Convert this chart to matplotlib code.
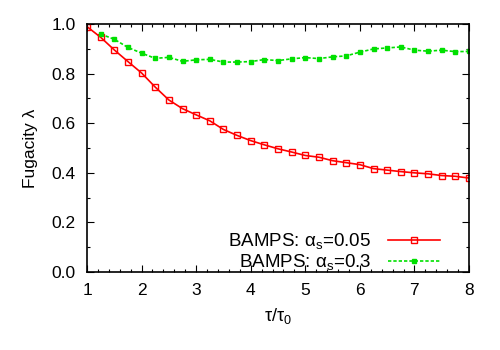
import numpy as np
import matplotlib
matplotlib.use("Agg")
import matplotlib.pyplot as plt
from matplotlib.ticker import MultipleLocator, FormatStrFormatter

plt.rcParams['font.family'] = ['Liberation Sans', 'DejaVu Sans']
plt.rcParams['mathtext.fontset'] = 'custom'
plt.rcParams['mathtext.rm'] = 'Liberation Sans'

# data
tau_red = [1.0, 1.25, 1.5, 1.75, 2.0, 2.25, 2.5, 2.75, 3.0, 3.25, 3.5, 3.75, 4.0, 4.25,
           4.5, 4.75, 5.0, 5.25, 5.5, 5.75, 6.0, 6.25, 6.5, 6.75, 7.0, 7.25, 7.5, 7.75, 8.0]
lam_red = [0.99, 0.947, 0.896, 0.849, 0.803, 0.746, 0.694, 0.659, 0.634, 0.610, 0.575, 0.551,
           0.530, 0.513, 0.497, 0.484, 0.470, 0.463, 0.449, 0.441, 0.433, 0.417, 0.411, 0.405,
           0.400, 0.396, 0.389, 0.386, 0.379]

tau_green = [1.25, 1.5, 1.75, 2.0, 2.25, 2.5, 2.75, 3.0, 3.25, 3.5, 3.75, 4.0, 4.25, 4.5,
             4.75, 5.0, 5.25, 5.5, 5.75, 6.0, 6.25, 6.5, 6.75, 7.0, 7.25, 7.5, 7.75, 8.0]
lam_green = [0.960, 0.939, 0.906, 0.883, 0.862, 0.866, 0.850, 0.856, 0.858, 0.847, 0.847, 0.849,
             0.857, 0.853, 0.860, 0.865, 0.861, 0.868, 0.872, 0.887, 0.900, 0.904, 0.908, 0.895,
             0.891, 0.895, 0.889, 0.890]

labels = ['BAMPS: α$_\\mathrm{s}$=0.05', 'BAMPS: α$_\\mathrm{s}$=0.3']

fig = plt.figure(figsize=(5, 3.5), dpi=100)
ax = fig.add_axes([0.174, 0.223, 0.764, 0.708])

ax.plot(tau_red, lam_red, color='#ff0000', lw=1.2, marker='s', ms=4.5,
        mfc='none', mec='#ff0000', mew=1.0, label=labels[0])
ax.plot(tau_green, lam_green, color='#00e000', lw=1.2, ls=(0, (2, 1.2)), marker='s', ms=3.5,
        mfc='#00e000', mec='#00e000', label=labels[1])

ax.set_xlim(1, 8)
ax.set_ylim(0, 1.0)
ax.xaxis.set_major_locator(MultipleLocator(1))
ax.xaxis.set_minor_locator(MultipleLocator(0.2))
ax.yaxis.set_major_locator(MultipleLocator(0.2))
ax.yaxis.set_minor_locator(MultipleLocator(0.1))
ax.yaxis.set_major_formatter(FormatStrFormatter('%.1f'))

ax.tick_params(which='both', direction='in', top=True, right=True, width=0.8,
               labelsize=12.5, pad=8)
ax.tick_params(which='major', length=5)
ax.tick_params(which='minor', length=2.5)
for s in ax.spines.values():
    s.set_linewidth(1.2)

ax.set_xlabel('τ/τ$_\\mathrm{0}$', fontsize=13, labelpad=6)
ax.set_ylabel('Fugacity λ', fontsize=12.5, labelpad=10)

ax.legend(loc='lower right', frameon=False, markerfirst=False, fontsize=13.5,
          handlelength=2.8, labelspacing=0.05, handletextpad=0.9,
          bbox_to_anchor=(0.945, -0.035), borderaxespad=0.0)

fig.savefig('out.png', dpi=100)
